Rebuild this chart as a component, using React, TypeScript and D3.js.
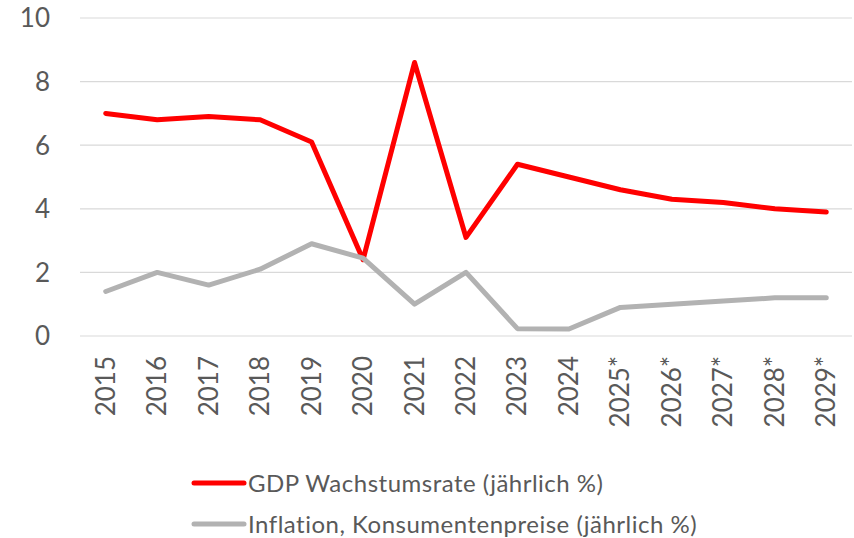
import { scaleBand, scaleLinear, line } from "d3";

const years = ["2015", "2016", "2017", "2018", "2019", "2020", "2021", "2022", "2023", "2024", "2025*", "2026*", "2027*", "2028*", "2029*"];
const gdpGrowth = [7.0, 6.8, 6.9, 6.8, 6.1, 2.4, 8.6, 3.1, 5.4, 5.0, 4.6, 4.3, 4.2, 4.0, 3.9];
const inflation = [1.4, 2.0, 1.6, 2.1, 2.9, 2.45, 1.0, 2.0, 0.23, 0.22, 0.9, 1.0, 1.1, 1.2, 1.2];
const yTicks = [0, 2, 4, 6, 8, 10];
const seriesNames = ["GDP Wachstumsrate (jährlich %)", "Inflation, Konsumentenpreise (jährlich %)"];

const W = 854;
const H = 538;
const M = { left: 80, right: 2, top: 18, bottom: 202 };
const FONT = "Lato, 'Liberation Sans', sans-serif";
const TEXT = "#595959";
const COLORS = ["#ff0000", "#b2b2b2"];

export default function App() {
  const x = scaleBand<string>()
    .domain(years)
    .range([M.left, W - M.right]);
  const y = scaleLinear()
    .domain([0, 10])
    .range([H - M.bottom, M.top]);

  const cx = (d: string) => (x(d) ?? 0) + x.bandwidth() / 2;
  const path = line<number>()
    .x((_, i) => cx(years[i]))
    .y((v) => y(v));

  const series = [gdpGrowth, inflation];

  return (
    <svg width={W} height={H} style={{ position: "absolute", left: 0, top: 0, background: "#fff" }}>
      {/* gridlines */}
      {yTicks.map((t) => (
        <line key={t} x1={M.left} x2={W - M.right} y1={y(t)} y2={y(t)} stroke="#d9d9d9" strokeWidth={1.2} />
      ))}
      {yTicks.map((t) => (
        <text key={"l" + t} x={50} y={y(t)} dy="0.36em" textAnchor="end" fontFamily={FONT} fontSize={26} fill={TEXT}>
          {t}
        </text>
      ))}
      {years.map((d) => (
        <text
          key={d}
          transform={`translate(${cx(d) + 9},${y(0) + 20}) rotate(-90)`}
          textAnchor="end"
          fontFamily={FONT}
          fontSize={26}
          fill={TEXT}
        >
          {d}
        </text>
      ))}
      {series.map((s, i) => (
        <path key={i} d={path(s) ?? ""} fill="none" stroke={COLORS[i]} strokeWidth={5} strokeLinejoin="round" strokeLinecap="round" />
      ))}
      {/* legend */}
      {seriesNames.map((name, i) => (
        <g key={name} transform={`translate(192,${483 + i * 41})`}>
          <line x1={2} x2={52} y1={0} y2={0} stroke={COLORS[i]} strokeWidth={5} strokeLinecap="round" />
          <text x={56} y={0} dy="0.36em" fontFamily={FONT} fontSize={24} letterSpacing={0.5} fill={TEXT}>
            {name}
          </text>
        </g>
      ))}
    </svg>
  );
}
